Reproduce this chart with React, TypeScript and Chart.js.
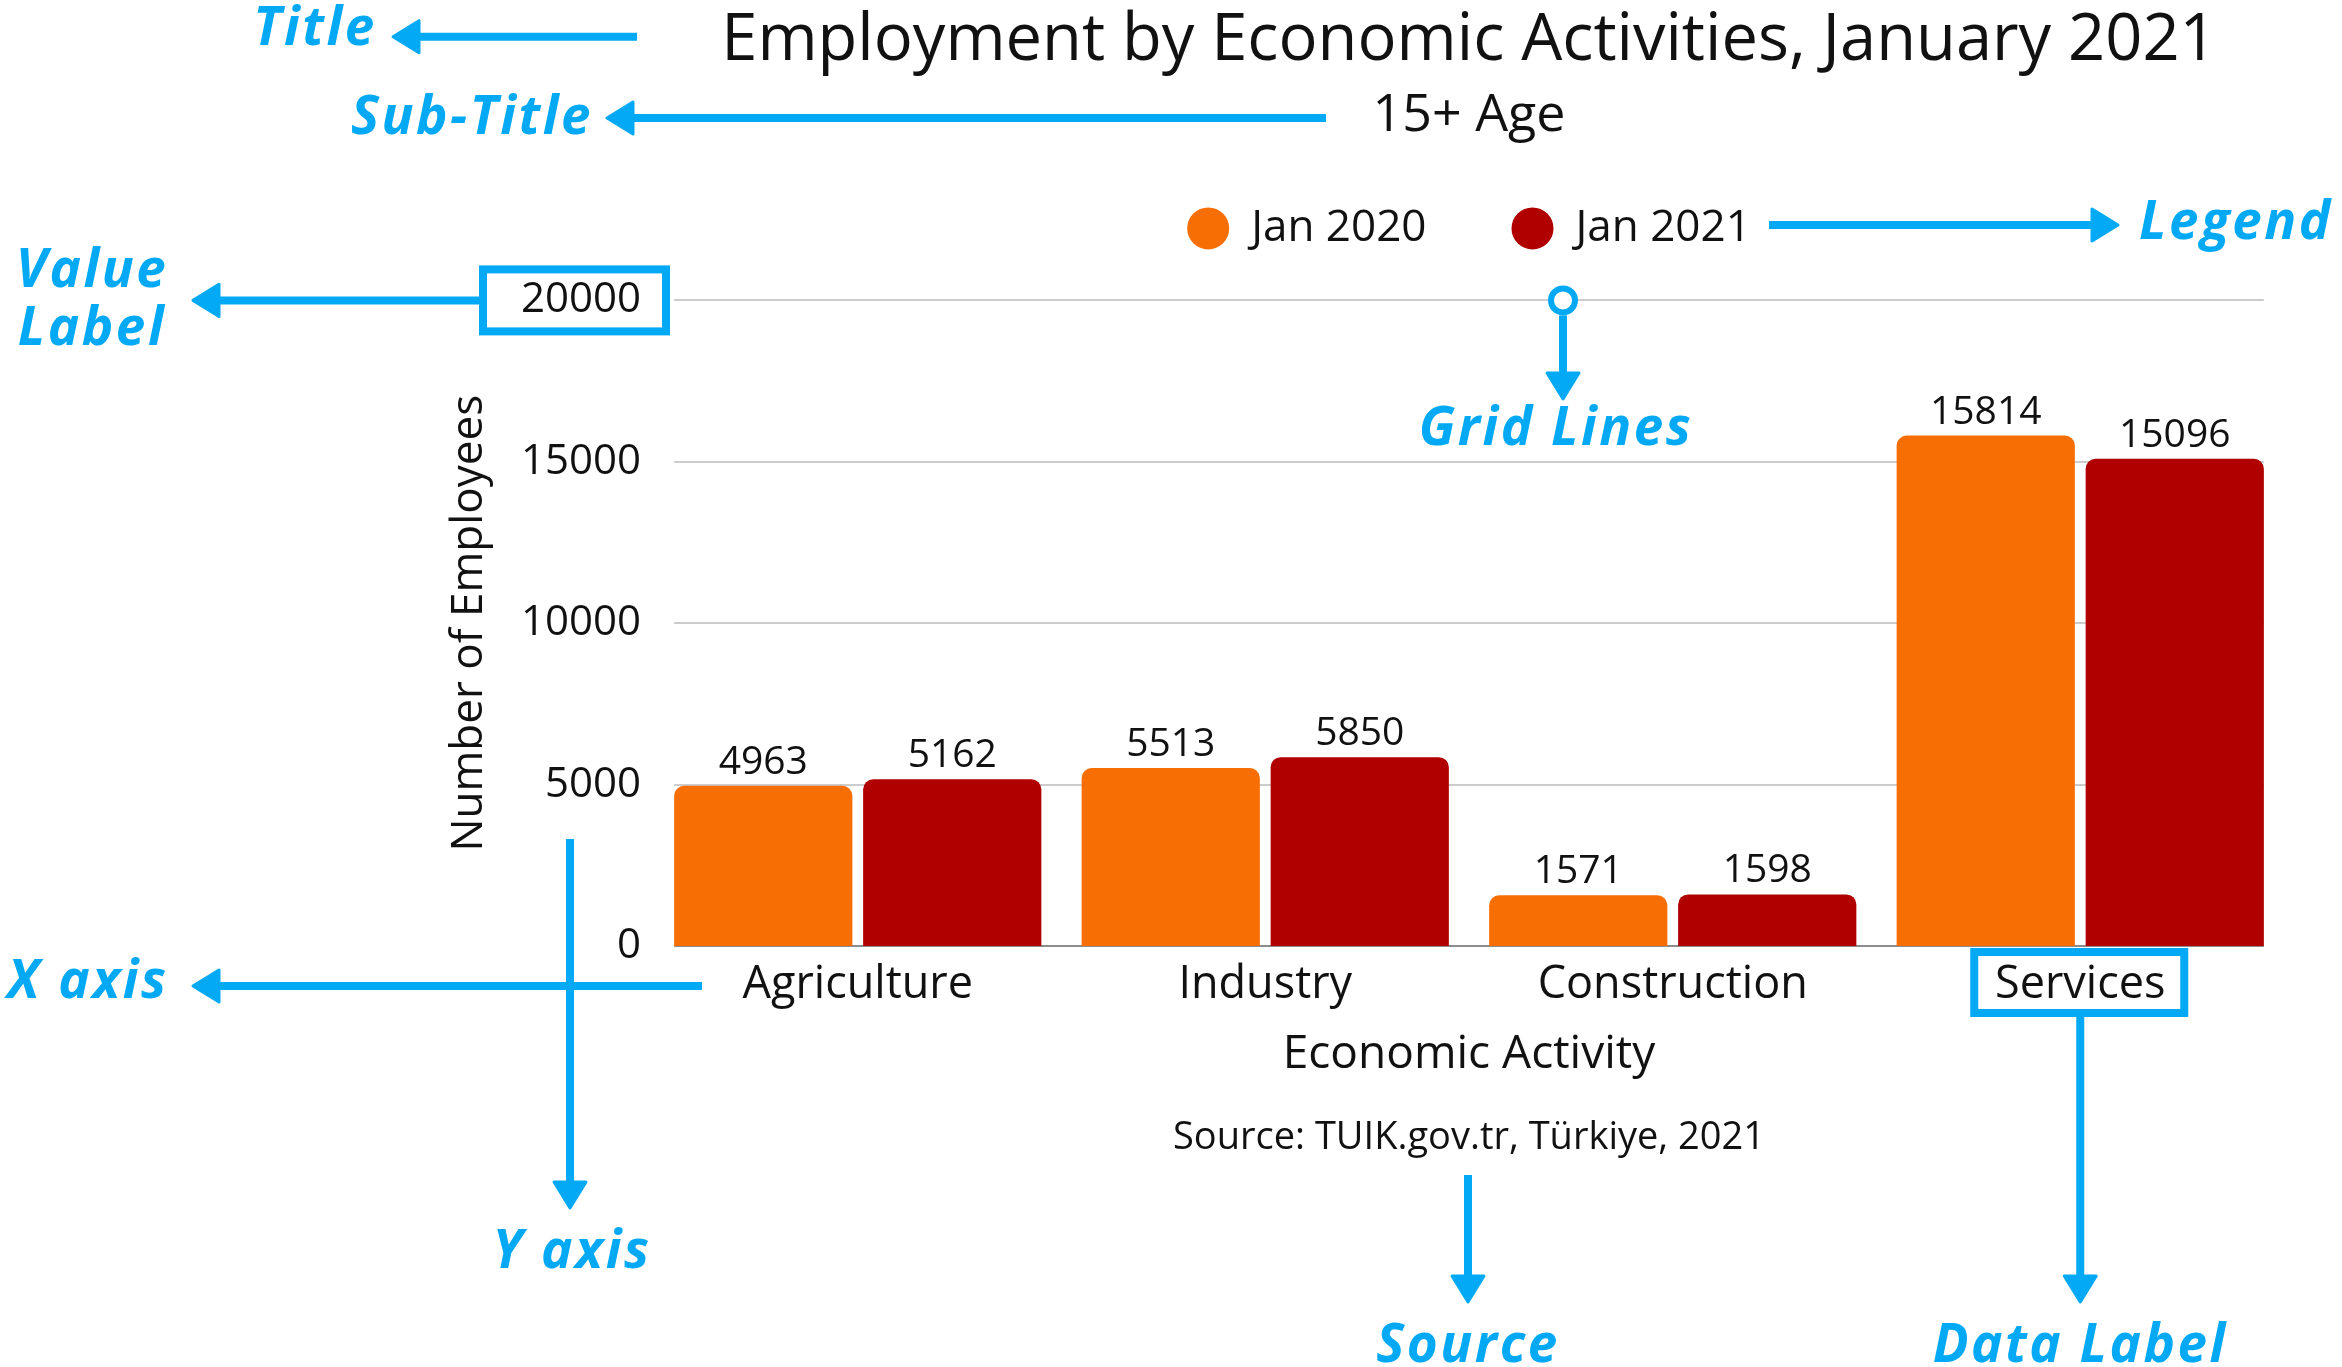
import React, { useEffect, useRef } from "react";
import { Chart, registerables } from "chart.js";

Chart.register(...registerables);

const titleText = "Employment by Economic Activities, January 2021";
const subtitleText = "15+ Age";
const sourceText = "Source: TUIK.gov.tr, Türkiye, 2021";
const xAxisTitle = "Economic Activity";
const yAxisTitle = "Number of Employees";
const categories = ["Agriculture", "Industry", "Construction", "Services"];
const seriesNames = ["Jan 2020", "Jan 2021"];
const jan2020 = [4963, 5513, 1571, 15814];
const jan2021 = [5162, 5850, 1598, 15096];
const seriesColors = ["#F76E05", "#B00000"];
const yMin = 0;
const yMax = 20000;
const yStep = 5000;

const W = 2342;
const H = 1367;
const FONT = '"Open Sans", "DejaVu Sans", sans-serif';
const BLUE = "#03A9F4";
const TEXT = "#111111";

function arrow(ctx: CanvasRenderingContext2D, x1: number, y1: number, x2: number, y2: number) {
  const head = 26;
  const half = 16;
  const dx = x2 - x1;
  const dy = y2 - y1;
  const len = Math.hypot(dx, dy);
  const ux = dx / len;
  const uy = dy / len;
  const bx = x2 - ux * head;
  const by = y2 - uy * head;
  ctx.save();
  ctx.strokeStyle = BLUE;
  ctx.fillStyle = BLUE;
  ctx.lineWidth = 8;
  ctx.lineCap = "butt";
  ctx.beginPath();
  ctx.moveTo(x1, y1);
  ctx.lineTo(bx + ux * 3, by + uy * 3);
  ctx.stroke();
  ctx.lineWidth = 3;
  ctx.lineJoin = "round";
  ctx.beginPath();
  ctx.moveTo(x2, y2);
  ctx.lineTo(bx - uy * half, by + ux * half);
  ctx.lineTo(bx + uy * half, by - ux * half);
  ctx.closePath();
  ctx.fill();
  ctx.stroke();
  ctx.restore();
}

function blueText(ctx: CanvasRenderingContext2D, text: string, x: number, y: number, align: CanvasTextAlign) {
  ctx.save();
  ctx.font = `italic bold 53px ${FONT}`;
  (ctx as any).letterSpacing = "2.5px";
  ctx.fillStyle = BLUE;
  ctx.textAlign = align;
  ctx.textBaseline = "alphabetic";
  ctx.fillText(text, x, y);
  (ctx as any).letterSpacing = "0px";
  ctx.restore();
}

function blueBox(ctx: CanvasRenderingContext2D, x: number, y: number, w: number, h: number) {
  ctx.save();
  ctx.strokeStyle = BLUE;
  ctx.lineWidth = 8;
  ctx.strokeRect(x, y, w, h);
  ctx.restore();
}

const annotatePlugin = {
  id: "annotate",
  beforeInit(chart: any) {
    const legend = chart.legend;
    if (legend) {
      const orig = legend.fit;
      legend.fit = function () {
        orig.call(this);
        this.height = 179;
      };
    }
  },
  beforeDatasetsDraw(chart: any) {
    const { ctx } = chart;
    const y = chart.scales.y;
    const m0 = chart.getDatasetMeta(0);
    const m1 = chart.getDatasetMeta(1);
    const first = m0.data[0];
    const last = m1.data[m1.data.length - 1];
    const left = first.x - first.width / 2;
    const right = last.x + last.width / 2;
    ctx.save();
    y.ticks.forEach((t: any) => {
      const py = Math.round(y.getPixelForValue(t.value));
      ctx.strokeStyle = t.value === 0 ? "#8C8C8C" : "#CCCCCC";
      ctx.lineWidth = 2;
      ctx.beginPath();
      ctx.moveTo(left, py);
      ctx.lineTo(right, py);
      ctx.stroke();
    });
    ctx.restore();
  },
  afterDatasetsDraw(chart: any) {
    const { ctx } = chart;
    ctx.save();
    ctx.font = `39px ${FONT}`;
    ctx.fillStyle = TEXT;
    ctx.textAlign = "center";
    ctx.textBaseline = "alphabetic";
    chart.data.datasets.forEach((ds: any, di: number) => {
      const meta = chart.getDatasetMeta(di);
      meta.data.forEach((bar: any, i: number) => {
        ctx.fillText(String(ds.data[i]), bar.x, bar.y - 12);
      });
    });
    ctx.restore();
  },
  afterDraw(chart: any) {
    const { ctx, chartArea } = chart;
    const cx = (chartArea.left + chartArea.right) / 2;
    ctx.save();
    ctx.font = `38px ${FONT}`;
    ctx.fillStyle = TEXT;
    ctx.textAlign = "center";
    ctx.textBaseline = "middle";
    ctx.fillText(sourceText, cx, 1138);
    ctx.restore();

    const yTop = chart.scales.y.getPixelForValue(yMax);
    const servicesX = chart.scales.x.getPixelForValue(3);

    // Title
    blueText(ctx, "Title", 315, 45, "center");
    arrow(ctx, 637, 36.7, 393, 36.7);
    // Sub-Title
    blueText(ctx, "Sub-Title", 472, 134, "center");
    arrow(ctx, 1326, 118, 607, 118);
    // Value Label
    blueText(ctx, "Value", 92, 287, "center");
    blueText(ctx, "Label", 92, 345, "center");
    blueBox(ctx, 483, yTop - 31, 183, 62);
    arrow(ctx, 479, yTop, 193, yTop);
    // Legend
    arrow(ctx, 1769, 225, 2118, 225);
    blueText(ctx, "Legend", 2139, 239, "left");
    // Grid Lines
    ctx.save();
    ctx.strokeStyle = BLUE;
    ctx.fillStyle = "#FFFFFF";
    ctx.lineWidth = 6;
    ctx.beginPath();
    ctx.arc(1563, yTop, 12, 0, Math.PI * 2);
    ctx.fill();
    ctx.stroke();
    ctx.restore();
    arrow(ctx, 1563, yTop + 15, 1563, 399);
    blueText(ctx, "Grid Lines", 1556, 445, "center");
    // X axis
    blueText(ctx, "X axis", 88, 998, "center");
    arrow(ctx, 702, 986, 193, 986);
    // Y axis
    arrow(ctx, 570, 839, 570, 1208);
    blueText(ctx, "Y axis", 572, 1268, "center");
    // Source
    arrow(ctx, 1468, 1175, 1468, 1302);
    blueText(ctx, "Source", 1468, 1362, "center");
    // Data Label
    blueBox(ctx, servicesX - 106, 952, 210, 61);
    arrow(ctx, servicesX, 1017, servicesX, 1302);
    blueText(ctx, "Data Label", servicesX, 1362, "center");
  },
};

export default function App() {
  const canvasRef = useRef<HTMLCanvasElement | null>(null);

  useEffect(() => {
    const canvas = canvasRef.current;
    if (!canvas) return;
    const chart = new Chart(canvas, {
      type: "bar",
      data: {
        labels: categories,
        datasets: [
          {
            label: seriesNames[0],
            data: jan2020,
            backgroundColor: seriesColors[0],
            borderWidth: 0,
            borderRadius: 10,
            categoryPercentage: 0.9276,
            barPercentage: 0.943,
          },
          {
            label: seriesNames[1],
            data: jan2021,
            backgroundColor: seriesColors[1],
            borderWidth: 0,
            borderRadius: 10,
            categoryPercentage: 0.9276,
            barPercentage: 0.943,
          },
        ],
      },
      options: {
        responsive: false,
        animation: false,
        devicePixelRatio: 1,
        events: [],
        layout: { padding: { left: 0, right: 58, top: 0, bottom: 281 } },
        plugins: {
          tooltip: { enabled: false },
          title: {
            display: true,
            text: titleText,
            color: TEXT,
            fullSize: false,
            font: { family: FONT, size: 65, weight: "normal", lineHeight: 1 },
            padding: { top: 8.6, bottom: 0 },
          },
          subtitle: {
            display: true,
            text: subtitleText,
            color: TEXT,
            fullSize: false,
            font: { family: FONT, size: 52, weight: "normal", lineHeight: 0.2 },
            padding: { top: 37.4, bottom: 0 },
          },
          legend: {
            display: true,
            position: "top",
            fullSize: false,
            labels: {
              usePointStyle: true,
              pointStyle: "circle",
              boxWidth: 42,
              boxHeight: 29.7,
              padding: 85,
              color: TEXT,
              font: { family: FONT, size: 44 },
            },
          },
        },
        scales: {
          x: {
            grid: { display: false, drawTicks: false },
            border: { display: false },
            ticks: { color: TEXT, font: { family: FONT, size: 45 }, padding: 12, maxRotation: 0, autoSkip: false },
            title: {
              display: true,
              text: xAxisTitle,
              color: TEXT,
              font: { family: FONT, size: 46 },
              padding: { top: 0, bottom: 3.2 },
            },
            afterFit: (s: any) => {
              s.height = 140;
            },
          },
          y: {
            min: yMin,
            max: yMax,
            grid: { display: false, drawTicks: false },
            border: { display: false },
            ticks: {
              stepSize: yStep,
              color: TEXT,
              font: { family: FONT, size: 42 },
              padding: 13,
              callback: (v: any) => String(v),
            },
            title: {
              display: true,
              text: yAxisTitle,
              color: TEXT,
              font: { family: FONT, size: 44 },
              padding: { top: 442.6, bottom: 0 },
            },
            afterFit: (s: any) => {
              s.width = 654;
            },
          },
        },
      } as any,
      plugins: [annotatePlugin as any],
    });
    return () => chart.destroy();
  }, []);

  return (
    <div style={{ position: "fixed", left: 0, top: 0, width: W, height: H, background: "#FFFFFF" }}>
      <canvas ref={canvasRef} width={W} height={H} style={{ display: "block", width: W, height: H }} />
    </div>
  );
}
